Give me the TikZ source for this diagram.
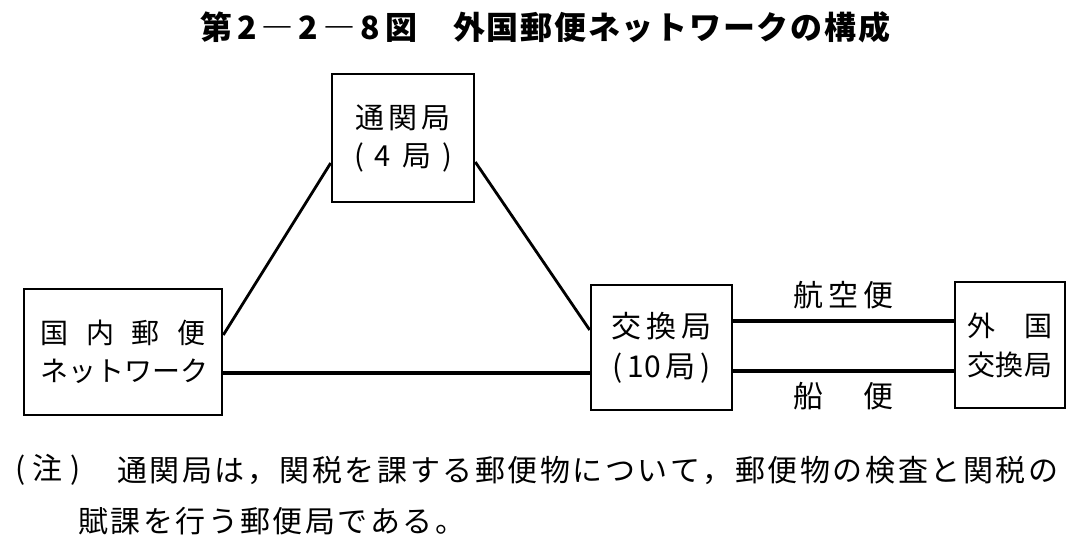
\documentclass[tikz,border=0pt]{standalone}
\usepackage{fontspec}
\setmainfont{Noto Sans CJK JP}
\makeatletter
\def\sprd#1{\sprd@#1\relax}
\def\sprd@#1{#1\@ifnextchar\relax{\@gobble}{\hfill\sprd@}}
\makeatother
\newcommand\spbox[2]{\makebox[#1][s]{\sprd{#2}}}
\begin{document}
\begin{tikzpicture}[x=1pt,y=-1pt,
  box/.style={draw,line width=2.6pt,rectangle,inner sep=0pt,align=center,
    font=\fontsize{29}{38}\selectfont},
  link/.style={line width=2.8pt},
  route/.style={line width=3.3pt},
  lbl/.style={inner sep=0pt,font=\fontsize{30}{34}\selectfont}]
\useasboundingbox[fill=white] (0,0) rectangle (1087,545);
\node[lbl,font=\bfseries\fontsize{32}{36}\selectfont,anchor=west] (title) at (200,27)
  {\spbox{217pt}{第2―2―8図}\hspace{36pt}\spbox{437pt}{外国郵便ネットワークの構成}};
\node[box,minimum width=142pt,minimum height=128pt] (tsukan) at (403,138)
  {\spbox{96pt}{通関局}\\\spbox{98pt}{(4局)}};
\node[box,minimum width=198pt,minimum height=126pt,font=\fontsize{28}{38}\selectfont] (kokunai) at (123,352)
  {\spbox{165pt}{国内郵便}\\\spbox{165pt}{ネットワーク}};
\node[box,minimum width=141pt,minimum height=125pt,font=\fontsize{30}{40}\selectfont] (koukan) at (661.5,347.5)
  {\spbox{100pt}{交換局}\\\spbox{98pt}{({10}局)}};
\node[box,minimum width=110pt,minimum height=126pt,font=\fontsize{28}{39}\selectfont] (gaikoku) at (1010,345)
  {\spbox{86pt}{外国}\\\spbox{86pt}{交換局}};
\draw[link] ([yshift=17pt]kokunai.east) -- ([yshift=-25pt]tsukan.west);
\draw[link] ([yshift=-24pt]tsukan.east) -- ([yshift=17.5pt]koukan.west);
\draw[route] ([yshift=-21pt]kokunai.east) -- ([yshift=-25.5pt]koukan.west);
\draw[route] ([yshift=26.5pt]koukan.east) -- node[lbl,yshift=26pt] (air) {\spbox{100pt}{航空便}} ([yshift=24pt]gaikoku.west);
\draw[route] ([yshift=-23.5pt]koukan.east) -- node[lbl,yshift=-25pt] (sea) {\spbox{100pt}{船便}} ([yshift=-26pt]gaikoku.west);
\node[lbl,anchor=west] (notehead) at (15,470) {\spbox{65pt}{(注)}};
\node[lbl,anchor=west] (note1) at (117,470)
  {\spbox{941pt}{通関局は，関税を課する郵便物について，郵便物の検査と関税の}};
\node[lbl,anchor=west] (note2) at (78,521) {\spbox{387pt}{賦課を行う郵便局である。}};
\end{tikzpicture}
\end{document}
